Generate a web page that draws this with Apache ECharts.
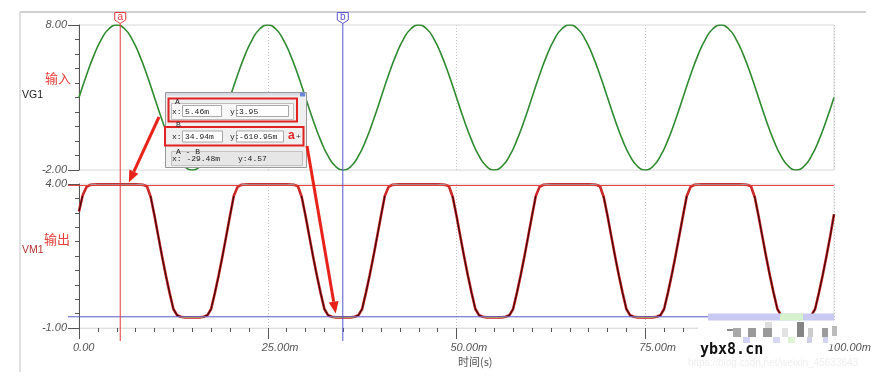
<!DOCTYPE html>
<html><head><meta charset="utf-8">
<script src="https://cdn.jsdelivr.net/npm/echarts@6/dist/echarts.min.js"></script>
<style>html,body{margin:0;padding:0;background:#fff}#c{width:879px;height:380px}</style>
</head><body><div id="c"></div>
<script>
// ---------- data ----------
const vg1Time = [0,1,2,3,4,5,6,7,8,9,10,11,12,13,14,15,16,17,18,19,
  20,21,22,23,24,25,26,27,28,29,30,31,32,33,34,35,36,37,38,39,
  40,41,42,43,44,45,46,47,48,49,50,51,52,53,54,55,56,57,58,59,
  60,61,62,63,64,65,66,67,68,69,70,71,72,73,74,75,76,77,78,79,
  80,81,82,83,84,85,86,87,88,89,90,91,92,93,94,95,96,97,98,99,100];
const vg1Value = [3.00,4.55,5.94,7.05,7.76,8.00,7.76,7.05,5.94,4.55,3.00,1.45,0.06,-1.05,-1.76,-2.00,-1.76,-1.05,0.06,1.45,
  3.00,4.55,5.94,7.05,7.76,8.00,7.76,7.05,5.94,4.55,3.00,1.45,0.06,-1.05,-1.76,-2.00,-1.76,-1.05,0.06,1.45,
  3.00,4.55,5.94,7.05,7.76,8.00,7.76,7.05,5.94,4.55,3.00,1.45,0.06,-1.05,-1.76,-2.00,-1.76,-1.05,0.06,1.45,
  3.00,4.55,5.94,7.05,7.76,8.00,7.76,7.05,5.94,4.55,3.00,1.45,0.06,-1.05,-1.76,-2.00,-1.76,-1.05,0.06,1.45,
  3.00,4.55,5.94,7.05,7.76,8.00,7.76,7.05,5.94,4.55,3.00,1.45,0.06,-1.05,-1.76,-2.00,-1.76,-1.05,0.06,1.45,3.00];

const vm1Time = [0,0.5,1,1.5,2.5,7.5,8.5,9,9.5,10,10.5,11,11.5,12,12.5,13,13.5,14,16,16.5,17,17.5,18,18.5,19,19.5,20,
  20.5,21,21.5,22.5,27.5,28.5,29,29.5,30,30.5,31,31.5,32,32.5,33,33.5,34,36,36.5,37,37.5,38,38.5,39,39.5,40,
  40.5,41,41.5,42.5,47.5,48.5,49,49.5,50,50.5,51,51.5,52,52.5,53,53.5,54,56,56.5,57,57.5,58,58.5,59,59.5,60,
  60.5,61,61.5,62.5,67.5,68.5,69,69.5,70,70.5,71,71.5,72,72.5,73,73.5,74,76,76.5,77,77.5,78,78.5,79,79.5,80,
  80.5,81,81.5,82.5,87.5,88.5,89,89.5,90,90.5,91,91.5,92,92.5,93,93.5,94,96,96.5,97,97.5,98,98.5,99,99.5,100];
const vm1Value = [3.05,3.62,3.90,3.97,3.99,3.99,3.97,3.92,3.55,2.90,2.19,1.49,0.83,0.22,-0.34,-0.56,-0.61,-0.63,-0.63,-0.61,-0.56,-0.34,0.22,0.83,1.49,2.19,2.90,
  3.58,3.90,3.97,3.99,3.99,3.97,3.92,3.55,2.90,2.19,1.49,0.83,0.22,-0.34,-0.56,-0.61,-0.63,-0.63,-0.61,-0.56,-0.34,0.22,0.83,1.49,2.19,2.90,
  3.58,3.90,3.97,3.99,3.99,3.97,3.92,3.55,2.90,2.19,1.49,0.83,0.22,-0.34,-0.56,-0.61,-0.63,-0.63,-0.61,-0.56,-0.34,0.22,0.83,1.49,2.19,2.90,
  3.58,3.90,3.97,3.99,3.99,3.97,3.92,3.55,2.90,2.19,1.49,0.83,0.22,-0.34,-0.56,-0.61,-0.63,-0.63,-0.61,-0.56,-0.34,0.22,0.83,1.49,2.19,2.90,
  3.58,3.90,3.97,3.99,3.99,3.97,3.92,3.55,2.90,2.19,1.49,0.83,0.22,-0.34,-0.56,-0.61,-0.63,-0.63,-0.61,-0.56,-0.34,0.22,0.83,1.49,2.19,2.95];

const vg1LabelTicks = [-2, 8];
const vm1LabelTicks = [-1, 4];
const cursorA = {x: 5.46, y: 3.95};
const cursorB = {x: 34.94, y: -0.61095};
const readA = {x: '5.46m', y: '3.95'};
const readB = {x: '34.94m', y: '-610.95m'};
const readAB = {x: '-29.48m', y: '4.57'};

// ---------- chart ----------
const FONT = '"Liberation Sans", Arial, sans-serif';
const CJK = '"Noto Sans CJK SC", sans-serif';
const MONO = '"Liberation Mono", "DejaVu Sans Mono", monospace';
const AX = '#555';
const pairs = (xs, ys) => xs.map((x, i) => [x, ys[i]]);
const xFmt = v => v === 0 ? '0.00' : v.toFixed(2) + 'm';

const chart = echarts.init(document.getElementById('c'));
const labelAxis = (grid, min, max, vals) => ({
  gridIndex: grid, type: 'value', position: 'left', min, max,
  axisLine: {show: false, onZero: false},
  axisTick: {show: true, length: 11, customValues: vals, lineStyle: {color: AX}},
  axisLabel: {show: true, customValues: vals, margin: 12, formatter: v => v.toFixed(2),
    fontStyle: 'italic', fontSize: 11, color: AX, fontFamily: FONT},
  splitLine: {show: false}
});
const tickAxis = (grid, min, max, interval) => ({
  gridIndex: grid, type: 'value', position: 'left', min, max, interval,
  axisLine: {show: true, onZero: false, lineStyle: {color: AX}},
  axisTick: {show: true, length: 4, lineStyle: {color: AX}},
  axisLabel: {show: false}, splitLine: {show: false}
});

chart.setOption({
  animation: false,
  grid: [
    {left: 79, top: 25, width: 755, height: 145, show: true, borderColor: '#d8d8d8', borderWidth: 1},
    {left: 79, top: 184, width: 755, height: 144, show: true, borderColor: '#e2e2e2', borderWidth: 1}
  ],
  xAxis: [
    {gridIndex: 0, type: 'value', position: 'bottom', min: 0, max: 100, interval: 25,
      axisLine: {show: false, onZero: false}, axisTick: {show: false}, axisLabel: {show: false},
      splitLine: {show: true, lineStyle: {type: [1, 2], color: '#c4c4c4'}}},
    {gridIndex: 1, type: 'value', position: 'bottom', min: 0, max: 100, interval: 25,
      axisLine: {show: true, onZero: false, lineStyle: {color: '#e0e0e0'}},
      axisTick: {show: true, length: 11, lineStyle: {color: AX}},
      minorTick: {show: true, splitNumber: 10, length: 4, lineStyle: {color: AX}},
      axisLabel: {show: true, margin: 14, formatter: xFmt, align: 'left', padding: [0, 0, 0, -6],
        fontStyle: 'italic', fontSize: 11, color: AX, fontFamily: FONT},
      splitLine: {show: true, lineStyle: {type: [1, 2], color: '#c4c4c4'}}}
  ],
  yAxis: [
    tickAxis(0, -2, 8, 1),
    labelAxis(0, -2, 8, vg1LabelTicks),
    tickAxis(1, -1, 4, 0.5),
    labelAxis(1, -1, 4, vm1LabelTicks)
  ],
  visualMap: {
    type: 'piecewise', show: false, seriesIndex: 2, dimension: 1,
    pieces: [
      {gt: 3.95, color: '#a2a2a2'},
      {gt: 3.6, lte: 3.95, color: '#d42a2a'},
      {gt: -0.6, lte: 3.6, color: '#3a0808'},
      {lte: -0.6, color: '#c2b24a'}
    ]
  },
  series: [
    {name: 'VG1', type: 'line', xAxisIndex: 0, yAxisIndex: 0, data: pairs(vg1Time, vg1Value),
      smooth: true, showSymbol: false, lineStyle: {color: '#2f8a2f', width: 1.6}, z: 3},
    {name: 'VM1', type: 'line', xAxisIndex: 1, yAxisIndex: 2, data: pairs(vm1Time, vm1Value),
      showSymbol: false, lineStyle: {color: '#c62222', width: 2.6}, z: 3},
    {name: 'VM1core', type: 'line', xAxisIndex: 1, yAxisIndex: 2, data: pairs(vm1Time, vm1Value),
      showSymbol: false, lineStyle: {width: 1.1}, z: 4}
  ]
});

// ---------- overlays positioned through the axes ----------
const P = (s, x, y) => chart.convertToPixel({seriesIndex: s}, [x, y]);
const g = [];
const RED = '#e23a3a', BLUE = '#5858cc';

// window frame
g.push({type: 'line', shape: {x1: 20, y1: 12, x2: 866, y2: 12}, style: {stroke: '#d2d2d2', lineWidth: 2}, z: 1});
g.push({type: 'line', shape: {x1: 20, y1: 12, x2: 20, y2: 372}, style: {stroke: '#d6d6d6', lineWidth: 1.5}, z: 1});

// horizontal cursor lines
const xRight = P(1, 100, 0)[0];
const yA = P(1, 0, cursorA.y)[1];
const yB = P(1, 0, cursorB.y)[1];
g.push({type: 'line', shape: {x1: 68, y1: yA, x2: xRight, y2: yA}, style: {stroke: RED, lineWidth: 1}, z: 40});
g.push({type: 'line', shape: {x1: 68, y1: yB, x2: xRight, y2: yB}, style: {stroke: BLUE, lineWidth: 1}, z: 40});

// vertical cursor lines + tags
function cursor(x, col, name) {
  g.push({type: 'line', shape: {x1: x, y1: 23, x2: x, y2: 341}, style: {stroke: col, lineWidth: 1}, z: 41});
  g.push({type: 'polygon', shape: {points: [[x - 5.5, 12.5], [x + 5.5, 12.5], [x + 5.5, 20], [x, 23.5], [x - 5.5, 20]]},
    style: {fill: '#fff', stroke: col, lineWidth: 1}, z: 42});
  g.push({type: 'text', z: 43, style: {text: name, x: x, y: 17.5, align: 'center', verticalAlign: 'middle',
    font: '10px ' + FONT, fill: col}});
}
cursor(P(0, cursorA.x, 0)[0], RED, 'a');
cursor(P(0, cursorB.x, 0)[0], BLUE, 'b');

// side labels
const txt = (t, x, y, font, fill, align) => g.push({type: 'text', z: 50,
  style: {text: t, x, y, align: align || 'left', verticalAlign: 'middle', font, fill}});
txt('输入', 45, 78, '13px ' + CJK, '#e5403a');
txt('VG1', 22, 95, '10.5px ' + FONT, '#222');
txt('输出', 44, 239, '13px ' + CJK, '#e5403a');
txt('VM1', 22, 250, '10.5px ' + FONT, '#b83030');
txt('时间(s)', 458, 362, '11px ' + CJK, '#555');

// cursor readout window
const D = 100;
const rect = (x, y, w, h, fill, stroke, lw) => g.push({type: 'rect', z: D,
  shape: {x, y, width: w, height: h}, style: {fill: fill || 'none', stroke: stroke || 'none', lineWidth: lw || 1}});
const dtxt = (t, x, y, fill, font) => g.push({type: 'text', z: D + 2,
  style: {text: t, x, y, align: 'left', verticalAlign: 'middle', font: font || '8px ' + MONO, fill: fill || '#222'}});
rect(165.5, 92.5, 141, 75, '#efefef', '#9a9a9a');
rect(166, 93, 140, 2.5, '#d6dbe6');
rect(300, 92.5, 5, 4, '#6a86d8');
// section A
rect(171.5, 103.5, 122, 16, '#f7f7f7', '#bdbdbd');
dtxt('A', 175, 101.5);
dtxt('x:', 172, 111.5);
rect(182.5, 105.5, 39, 11, '#fff', '#a8a8a8');
dtxt(readA.x, 185, 111.5);
dtxt('y:', 230, 111.5);
rect(236.5, 105.5, 52, 11, '#fff', '#a8a8a8');
dtxt(readA.y, 239, 111.5);
rect(168.5, 98.5, 128.5, 23, null, '#e02222', 2);
// section B
dtxt('B', 176, 125);
dtxt('x:', 172, 136.5);
rect(182.5, 131, 40, 11, '#fff', '#a8a8a8');
dtxt(readB.x, 185, 136.5);
dtxt('y:', 230, 136.5);
rect(236.5, 131, 47, 11, '#fff', '#a8a8a8');
dtxt(readB.y, 239, 136.5);
dtxt('a', 288, 135.5, '#e02222', 'bold 12px ' + FONT);
dtxt('+', 296, 136.5, '#333', '8px ' + FONT);
rect(165, 127, 138.5, 18.5, null, '#e02222', 2);
// section A - B
rect(171.5, 151.5, 131, 14, '#e6e6e6', '#c2c2c2');
dtxt('A - B', 176, 151.5);
dtxt('x: ' + readAB.x, 172, 159);
dtxt('y:' + readAB.y, 238, 159);

// red arrows
function arrow(x1, y1, x2, y2) {
  const dx = x2 - x1, dy = y2 - y1, L = Math.hypot(dx, dy), ux = dx / L, uy = dy / L;
  const hl = 12, hw = 5;
  const bx = x2 - ux * hl, by = y2 - uy * hl;
  g.push({type: 'line', z: 120, shape: {x1, y1, x2: bx, y2: by}, style: {stroke: '#e8241a', lineWidth: 3}});
  g.push({type: 'polygon', z: 120, shape: {points: [[x2, y2], [bx - uy * hw, by + ux * hw], [bx + uy * hw, by - ux * hw]]},
    style: {fill: '#e8241a'}});
}
const tip1 = P(1, 6.6, 4.05);
const tip2 = P(1, 34.0, -0.5);
arrow(159, 117, tip1[0], tip1[1]);
arrow(307, 146, tip2[0], tip2[1]);

// watermark / mosaic area
const W = 130;
const wr = (x, y, w, h, c) => g.push({type: 'rect', z: W, shape: {x, y, width: w, height: h}, style: {fill: c}});
wr(698, 320.5, 138, 24, '#ffffff');
wr(708, 313.5, 126, 7, '#c9c9f2');
wr(780, 313.5, 23, 7, '#d6f2cc');
wr(727, 329, 12, 2, '#8a8a8a');
wr(733, 328, 8, 9, '#a8a8a8');
wr(748, 328, 8, 9, '#9a9a9a');
wr(763, 328, 9, 9, '#9a9a9a');
wr(765, 322, 7, 6, '#dddddd');
wr(782, 328, 6, 9, '#e2e2e2');
wr(797, 322, 7, 15, '#858585');
wr(808, 328, 5, 9, '#cccccc');
wr(822, 328, 6, 9, '#9c9c9c');
wr(832, 326, 5, 10, '#bbbbbb');
wr(743, 337, 7, 6, '#d2d2f5');
wr(773, 337, 7, 6, '#d8d8f5');
wr(788, 337, 7, 6, '#dff4d5');
wr(807, 337, 5, 6, '#cfcfe8');
wr(823, 337, 5, 6, '#d2d2f2');
g.push({type: 'text', z: W + 1, style: {text: 'ybx8.cn', x: 700, y: 350, align: 'left', verticalAlign: 'middle',
  font: 'bold 15px "DejaVu Sans Mono", monospace', fill: '#111'}});
g.push({type: 'text', z: W + 1, style: {text: 'https://blog.csdn.net/weixin_45633643', x: 688, y: 363, align: 'left',
  verticalAlign: 'middle', font: '10px ' + FONT, fill: '#efefef'}});

chart.setOption({graphic: {elements: g}});
</script>
</body></html>
